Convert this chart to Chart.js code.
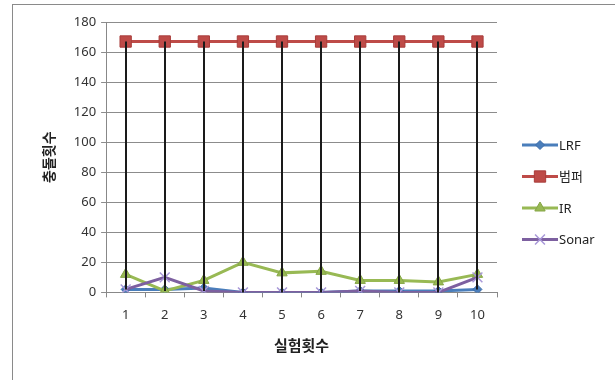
<!DOCTYPE html>
<html>
<head>
<meta charset="utf-8">
<script src="https://cdn.jsdelivr.net/npm/chart.js@4/dist/chart.umd.min.js"></script>
<style>
  body { margin: 0; background: #fff; }
  #frame { position: absolute; left: 12px; top: 4px; width: 603px; height: 376px;
           border-left: 1px solid #8a8a8a; border-top: 1px solid #8a8a8a; }
  #box { position: absolute; left: 0; top: 0; width: 615px; height: 380px; }
</style>
</head>
<body>
<div id="frame"></div>
<div id="box"><canvas id="chart" width="615" height="380"></canvas></div>
<script>
"use strict";
const rounds = ['1', '2', '3', '4', '5', '6', '7', '8', '9', '10'];
const lrf = [2, 2, 3, 0, 0, 0, 1, 1, 1, 2];
const bumper = [167, 167, 167, 167, 167, 167, 167, 167, 167, 167];
const ir = [12, 1, 8, 20, 13, 14, 8, 8, 7, 12];
const sonar = [2, 10, 1, 0, 0, 0, 1, 0, 0, 10];

const FONT = "'Noto Sans', 'Noto Sans CJK KR', sans-serif";
const canvas = document.getElementById('chart');
const ctx = canvas.getContext('2d');

// black high-low line at each round, from the highest to the lowest series value
const hiLoLines = {
    id: 'hiLoLines',
    afterDatasetsDraw(chart) {
        const x = chart.scales.x, y = chart.scales.y, c = chart.ctx;
        c.save();
        c.strokeStyle = '#1a1a1a';
        c.lineWidth = 2;
        chart.data.labels.forEach((_, i) => {
            const vals = chart.data.datasets.map(d => d.data[i]);
            const px = Math.round(x.getPixelForValue(i));
            c.beginPath();
            c.moveTo(px, y.getPixelForValue(Math.max(...vals)));
            c.lineTo(px, y.getPixelForValue(Math.min(...vals)));
            c.stroke();
        });
        c.restore();
    }
};

// legend on the right: line with the series marker in the middle
const sideLegend = {
    id: 'sideLegend',
    afterDraw(chart) {
        const c = chart.ctx;
        const x0 = 522, x1 = 558, top = 145, gap = 31.5;
        chart.data.datasets.forEach((ds, i) => {
            const yy = top + i * gap;
            c.save();
            c.strokeStyle = ds.borderColor;
            c.lineWidth = 3;
            c.beginPath();
            c.moveTo(x0, yy);
            c.lineTo(x1, yy);
            c.stroke();
            c.fillStyle = ds.pointBackgroundColor;
            c.strokeStyle = ds.pointBorderColor;
            c.lineWidth = ds.pointBorderWidth;
            Chart.helpers.drawPoint(c, {
                pointStyle: ds.pointStyle, radius: ds.pointRadius,
                borderWidth: ds.pointBorderWidth, rotation: 0
            }, (x0 + x1) / 2, yy);
            c.fillStyle = '#222';
            c.font = '13px ' + FONT;
            c.textBaseline = 'middle';
            c.fillText(ds.label, x1 + 1, yy + 1);
            c.restore();
        });
    }
};

function series(label, data, color, style, radius, pointBorder, order) {
    return {
        label: label,
        data: data,
        borderColor: color,
        backgroundColor: color,
        borderWidth: 3,
        pointStyle: style,
        pointRadius: radius,
        pointHoverRadius: radius,
        pointBackgroundColor: color,
        pointBorderColor: pointBorder,
        pointBorderWidth: style === 'crossRot' ? 1.5 : 1,
        tension: 0,
        order: order
    };
}

new Chart(ctx, {
    type: 'line',
    data: {
        labels: rounds,
        datasets: [
            series('LRF', lrf, '#4a7ebb', 'rectRot', 4.5, '#3c6ca8', 4),
            series('범퍼', bumper, '#be4b48', 'rect', 8, '#a83c3a', 3),
            series('IR', ir, '#98b954', 'triangle', 6, '#86a646', 2),
            series('Sonar', sonar, '#7d60a0', 'crossRot', 7, '#a898d8', 1)
        ]
    },
    options: {
        responsive: false,
        animation: false,
        events: [],
        layout: { padding: { left: 38, top: 22, right: 118, bottom: 20 } },
        plugins: { legend: { display: false }, tooltip: { enabled: false } },
        scales: {
            x: {
                offset: true,
                grid: { display: true, drawOnChartArea: false, offset: true, tickLength: 5, color: '#888' },
                border: { color: '#888', width: 1 },
                ticks: { color: '#333', font: { family: FONT, size: 13 }, padding: 10 },
                title: { display: true, text: '실험횟수', color: '#222', font: { family: FONT, size: 15, weight: 'bold' }, padding: { top: 5 } }
            },
            y: {
                min: 0, max: 180,
                ticks: { stepSize: 20, color: '#333', font: { family: FONT, size: 13 }, padding: 5 },
                grid: { color: '#8c8c8c', tickLength: 5 },
                border: { color: '#888', width: 1 },
                title: { display: true, text: '충돌횟수', color: '#222', font: { family: FONT, size: 14, weight: 'bold' }, padding: { bottom: 10 } }
            }
        }
    },
    plugins: [hiLoLines, sideLegend]
});
</script>
</body>
</html>
